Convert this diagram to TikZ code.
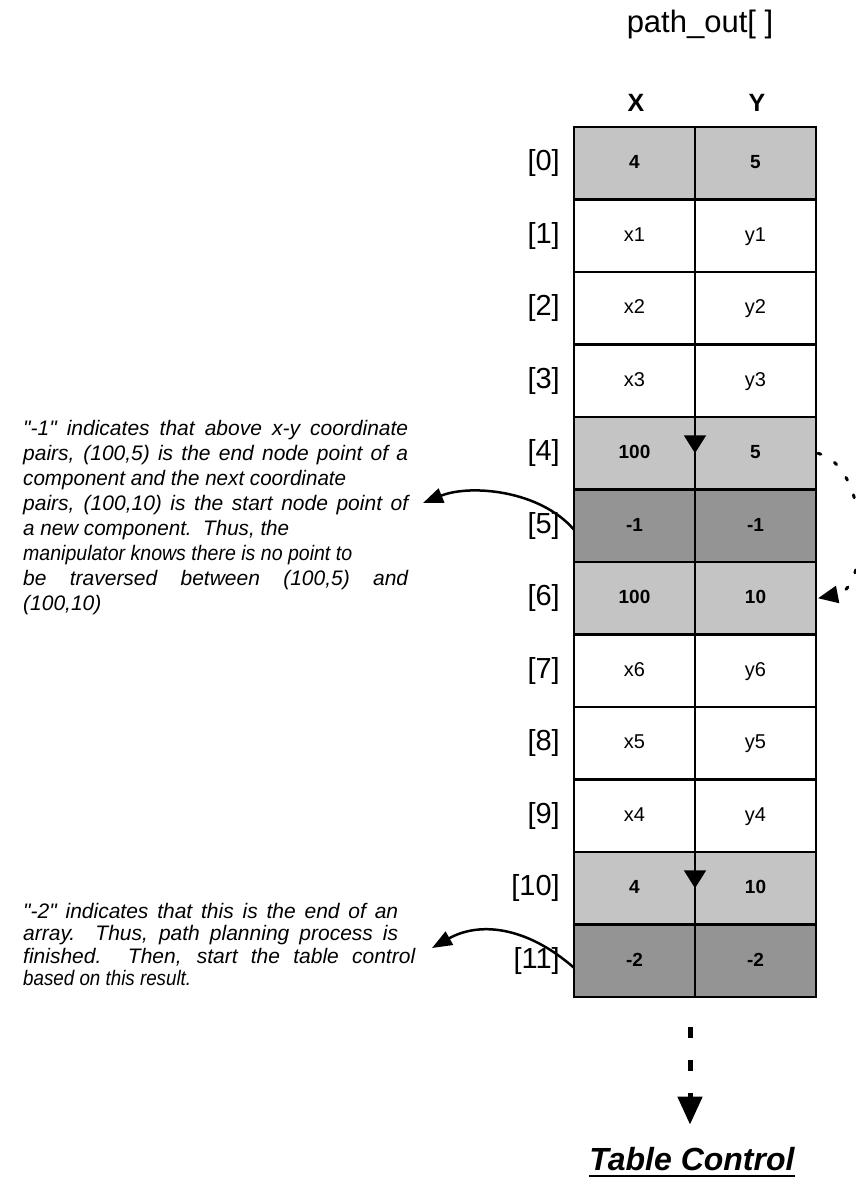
\documentclass[tikz,border=0pt]{standalone}
\usepackage{fontspec}
\setmainfont{Liberation Sans}
\usepackage{graphicx}
\usetikzlibrary{arrows.meta}
\definecolor{shadeA}{gray}{0.77}
\definecolor{shadeB}{gray}{0.58}
\newsavebox\tcbox
\newcommand\thickul[1]{\sbox\tcbox{#1}\usebox\tcbox\llap{\rule[-7pt]{\wd\tcbox}{2.5pt}}}
\newcommand\qq{\textquotedbl}
\begin{document}
\begin{tikzpicture}[x=1pt,y=-1pt,
  cell/.style={draw=black, line width=2.5pt, outer sep=0pt, inner sep=0pt,
    minimum width=121pt, minimum height=72.5pt, text height=14.5pt, text depth=4pt,
    font=\fontsize{20pt}{22pt}\selectfont},
  lite/.style={cell, fill=shadeA, font=\bfseries\fontsize{19pt}{22pt}\selectfont},
  dark/.style={cell, fill=shadeB, font=\bfseries\fontsize{19pt}{22pt}\selectfont},
  idx/.style={anchor=east, inner sep=0pt, text height=21pt, text depth=6pt,
    font=\fontsize{29pt}{30pt}\selectfont},
  head/.style={inner sep=0pt, font=\bfseries\fontsize{25pt}{28pt}\selectfont},
  note/.style={anchor=base west, inner sep=0pt, font=\itshape\fontsize{21pt}{25pt}\selectfont},
  conn/.style={line width=2.5pt, -{Triangle[length=20pt,width=15pt]}},
  flow/.style={line width=2pt, -{Triangle[length=18pt,width=22pt]}}
]
\useasboundingbox (0,0) rectangle (856,1187);

\node[anchor=base, inner sep=0pt, font=\fontsize{31pt}{34pt}\selectfont] (title) at (700,32) {path\_out[ ]};
\node[head] (hx) at (636,103) {X};
\node[head] (hy) at (757,103) {Y};

\foreach \i/\xv/\yv/\st in {0/4/5/lite, 1/x1/y1/cell, 2/x2/y2/cell, 3/x3/y3/cell,
   4/100/5/lite, 5/-1/-1/dark, 6/100/10/lite, 7/x6/y6/cell, 8/x5/y5/cell,
   9/x4/y4/cell, 10/4/10/lite, 11/-2/-2/dark} {
  \node[\st] (x\i) at (634.5, {163.25+72.5*\i}) {\xv};
  \node[\st] (y\i) at (755.5, {163.25+72.5*\i}) {\yv};
  \node[idx] (l\i) at (560, {163.25+72.5*\i}) {[\i]};
}

% flow line down the middle
\draw[flow] (x0.north east) -- (x4.east);
\draw[flow] (x4.east) -- (x10.east);
\draw[line width=2pt] (x10.east) -- (x11.south east);

% dotted jump from [4] to [6]
\draw[line width=3pt, line cap=round, dash pattern=on 3pt off 16pt,
      -{Triangle[length=20pt,width=17pt]}]
  ([xshift=2pt]y4.east) .. controls +(52,14) and +(52,-10) .. ([xshift=2pt]y6.east);

% annotations
\node[note] (note1) at (23,435) {\parbox[t]{430pt}{%
\makebox[385pt][s]{\qq-1\qq{} indicates that above x-y coordinate}\\
\makebox[385pt][s]{pairs, (100,5) is the end node point of a}\\
\resizebox{323pt}{\height}{component and the next coordinate}\\
\makebox[385pt][s]{pairs, (100,10) is the start node point of}\\
\resizebox{266pt}{\height}{a new component.\ \ Thus, the}\\
\resizebox{329pt}{\height}{manipulator knows there is no point to}\\
\makebox[385pt][s]{be traversed between (100,5) and}\\
(100,10)}};

\node[note, font=\itshape\fontsize{21pt}{22.5pt}\selectfont] (note2) at (23,918) {\parbox[t]{430pt}{%
\makebox[375pt][s]{\qq-2\qq{} indicates that this is the end of an}\\
\makebox[375pt][s]{array.\ \ Thus, path planning process is}\\
\makebox[392pt][s]{finished.\ \ Then, start the table control}\\
\resizebox{168pt}{\height}{based on this result.}}};

\coordinate (n1tip) at (423,503);
\coordinate (n2tip) at (432,948);
\draw[conn] ([yshift=-4pt]x5.west) .. controls (540,490) and (470,484) .. (n1tip);
\draw[conn] ([yshift=-7pt]x11.west) .. controls (525,925) and (478,922) .. (n2tip);

% to table control
\node[anchor=base, inner sep=0pt, font=\bfseries\itshape\fontsize{32pt}{36pt}\selectfont] (tc) at (692,1170) {\thickul{Table Control}};
\coordinate (dstart) at (690,1027);
\draw[line width=5pt, dash pattern=on 11pt off 22pt, -{Triangle[length=28pt,width=24pt]}]
  (dstart) -- ([yshift=22pt]dstart |- tc.north);
\end{tikzpicture}
\end{document}
